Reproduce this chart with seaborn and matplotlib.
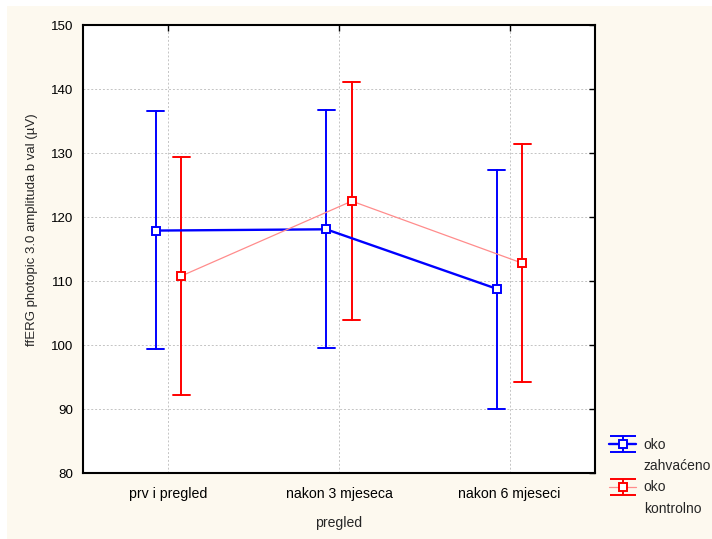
import numpy as np
import pandas as pd
import matplotlib
matplotlib.use("Agg")
import matplotlib.pyplot as plt
import seaborn as sns
from matplotlib.lines import Line2D
from matplotlib.collections import LineCollection
from matplotlib.container import ErrorbarContainer
from matplotlib.legend_handler import HandlerErrorbar
from matplotlib.patches import Rectangle

# ---- data ----
categories = ["prv i pregled", "nakon 3 mjeseca", "nakon 6 mjeseci"]
groups = ["oko zahvaćeno", "oko kontrolno"]
legend_lines = [["oko", "zahvaćeno"], ["oko", "kontrolno"]]

mean_zahvaceno = [117.9, 118.1, 108.8]
low_zahvaceno = [99.4, 99.5, 90.1]
high_zahvaceno = [136.5, 136.7, 127.3]

mean_kontrolno = [110.8, 122.5, 112.8]
low_kontrolno = [92.3, 103.9, 94.3]
high_kontrolno = [129.4, 141.1, 131.4]

y_ticks = [80, 90, 100, 110, 120, 130, 140, 150]
x_label = "pregled"
y_label = "ffERG photopic 3.0 amplituda b val (µV)"

colors = {"oko zahvaćeno": "#0000FF", "oko kontrolno": "#FF0000"}

# long table: low / mean / high per group & category; median = mean, min/max = CI
rows = []
for g, lo, mu, hi in [(groups[0], low_zahvaceno, mean_zahvaceno, high_zahvaceno),
                      (groups[1], low_kontrolno, mean_kontrolno, high_kontrolno)]:
    for c, a, b, d in zip(categories, lo, mu, hi):
        for v in (a, b, d):
            rows.append({"pregled": c, "oko": g, "val": v})
df = pd.DataFrame(rows)

sns.set_style("whitegrid")
plt.rcParams["font.family"] = ["Liberation Sans", "DejaVu Sans"]

fig = plt.figure(figsize=(7.12, 5.39), dpi=100, facecolor="white")
fig.add_artist(Rectangle((7 / 712, 0), 1, (539 - 6) / 539, transform=fig.transFigure,
                         facecolor="#FDF9EF", edgecolor="none", zorder=-10))
ax = fig.add_axes([83 / 712, 65.7 / 539, 512 / 712, 448.3 / 539])
ax.set_facecolor("white")

sns.pointplot(data=df, x="pregled", y="val", hue="oko", order=categories,
              hue_order=groups, estimator="median",
              errorbar=lambda v: (v.min(), v.max()),
              dodge=0.15, palette=colors, markers="s", capsize=0.1,
              legend=False, ax=ax)

# style lines
main_lines = [l for l in ax.lines if l.get_marker() not in (None, "None", "", " ")]
err_lines = [l for l in ax.lines if l not in main_lines]
for l in err_lines:
    l.set_linewidth(1.4)
    l.set_zorder(2.5)
for l in main_lines:
    col = matplotlib.colors.to_hex(l.get_color())
    l.set_zorder(3)
    l.set_markersize(6)
    l.set_markerfacecolor("white")
    l.set_markeredgewidth(1.4)
    if col.lower() == "#0000ff":
        l.set_color("#0000FF")
        l.set_linewidth(1.7)
        l.set_markeredgecolor("#0000FF")
    else:
        l.set_color("#FF8C8C")
        l.set_linewidth(0.9)
        l.set_markeredgecolor("#FF0000")

ax.set_ylim(80, 150)
ax.set_yticks(y_ticks)
ax.set_xlim(-0.5, 2.5)
ax.grid(True, which="major", axis="both", color="#C4C4C4", linestyle=(0, (2, 2)), linewidth=0.7)
ax.set_axisbelow(True)
for s in ax.spines.values():
    s.set_color("black")
    s.set_linewidth(1.5)
ax.tick_params(direction="in", length=4, width=1, colors="black", top=True, right=True,
               labeltop=False, labelright=False)
ax.tick_params(axis="y", labelsize=9.6, pad=7)
ax.tick_params(axis="x", labelsize=10.2, pad=10)
ax.set_xlabel(x_label, fontsize=10.1)
ax.set_ylabel(y_label, fontsize=9.5)
ax.xaxis.set_label_coords(0.5, -0.095)
ax.yaxis.set_label_coords(-0.088, 0.543)

# legend with errorbar-style handles
def eb_handle(line_color, edge_color, lw):
    dl = Line2D([], [], color=line_color, linewidth=lw, marker="s", markersize=6,
                markerfacecolor="white", markeredgecolor=edge_color, markeredgewidth=1.4)
    cap = Line2D([], [], color=edge_color, marker="_", markersize=19, markeredgewidth=1.4,
                 linestyle="none")
    bar = LineCollection([], colors=edge_color, linewidths=1.4)
    return ErrorbarContainer((dl, (cap, cap), (bar,)), has_xerr=False, has_yerr=True)

h_blue = eb_handle("#0000FF", "#0000FF", 1.7)
h_red = eb_handle("#FF8C8C", "#FF0000", 0.9)
blank = Line2D([], [], linestyle="none", alpha=0)
fig.legend(handles=[h_blue, blank, h_red, blank],
           labels=[legend_lines[0][0], legend_lines[0][1], legend_lines[1][0], legend_lines[1][1]],
           loc="upper left", bbox_to_anchor=(609 / 712, 1 - 438 / 539),
           frameon=False, fontsize=10, handlelength=1.95, handletextpad=0.55,
           labelspacing=0.52, borderpad=0, borderaxespad=0,
           handler_map={ErrorbarContainer: HandlerErrorbar(yerr_size=0.58)})

fig.savefig("out.png", dpi=100, facecolor=fig.get_facecolor())
